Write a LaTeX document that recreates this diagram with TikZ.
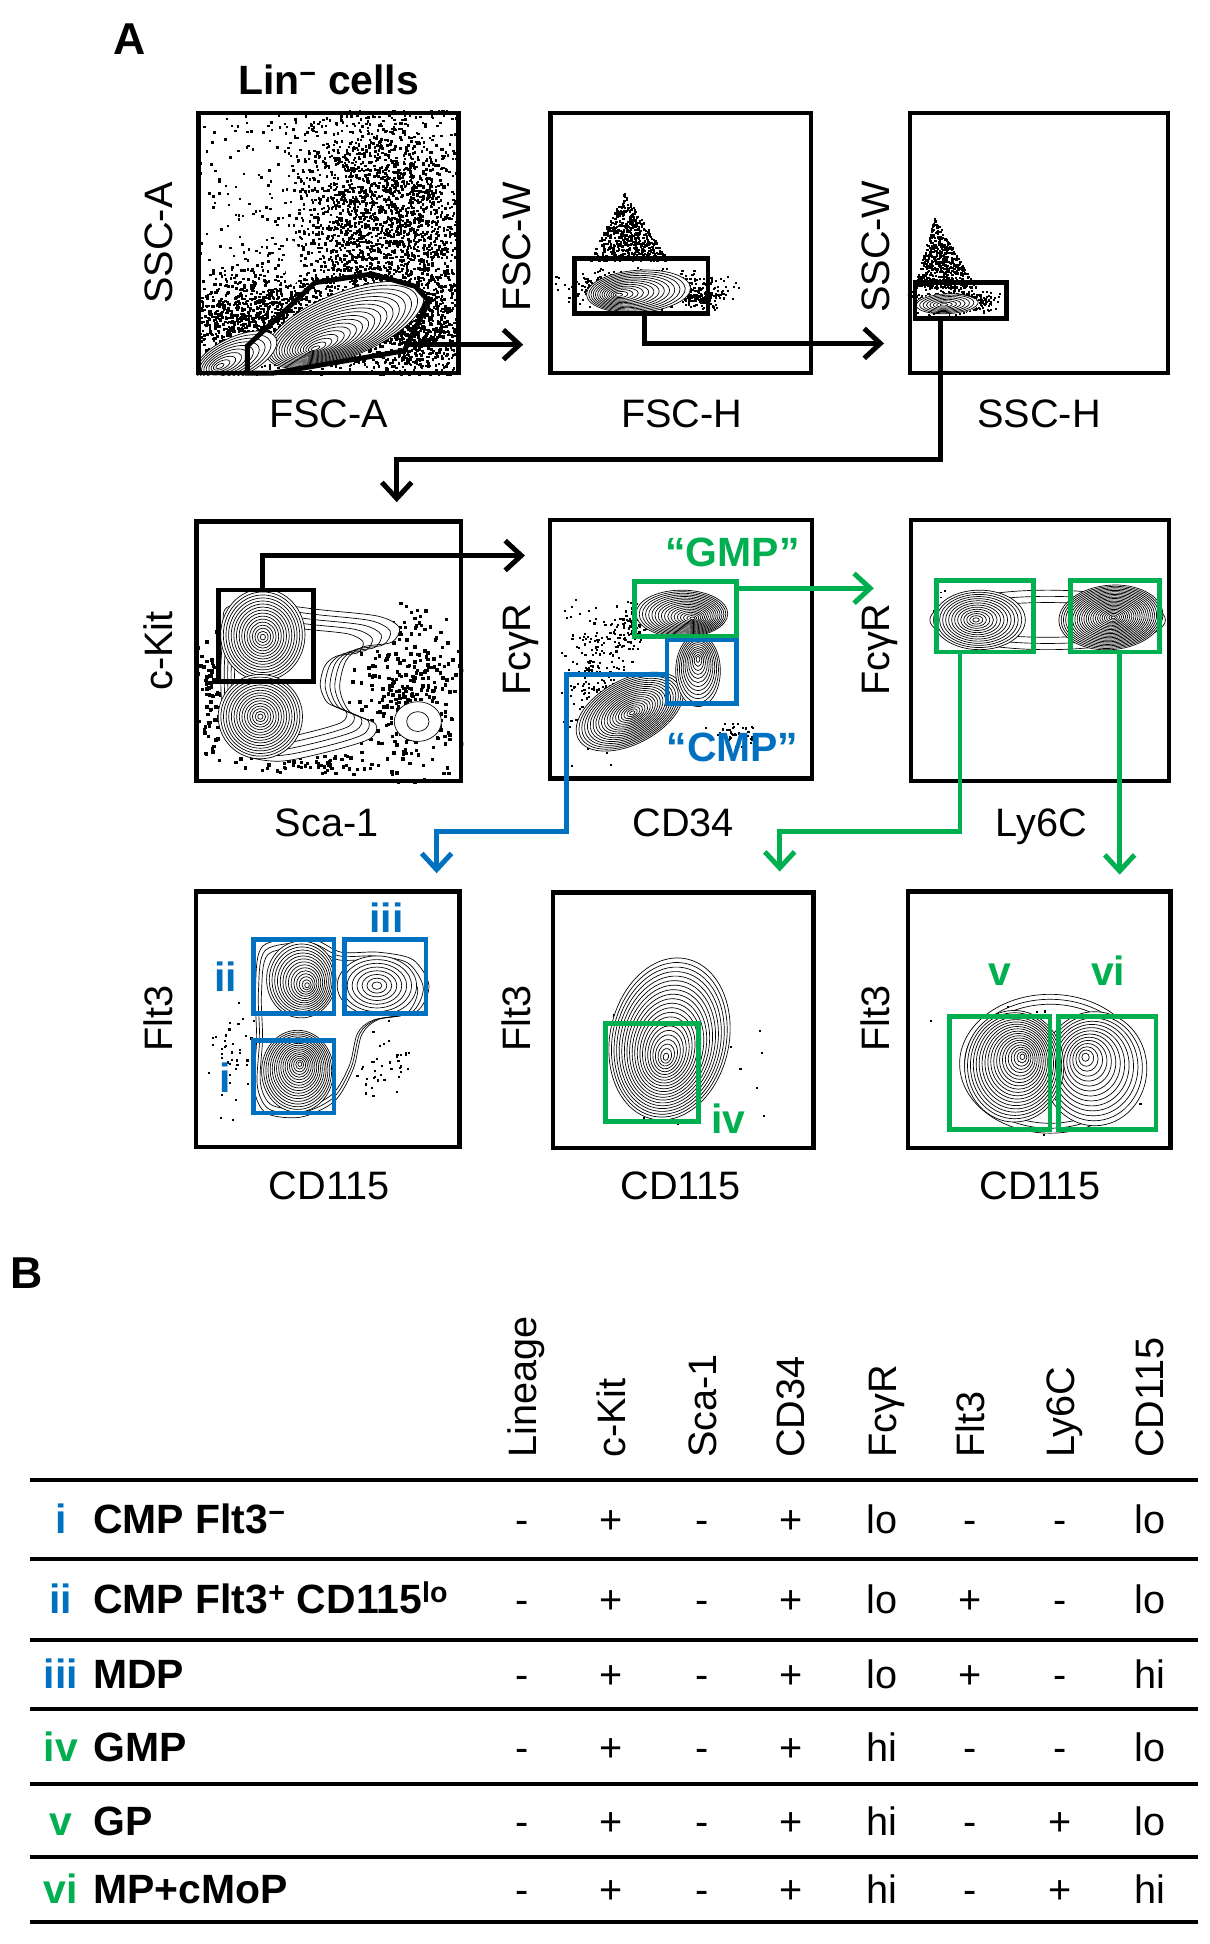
\documentclass[tikz,border=0pt]{standalone}
\usepackage{fontspec}
\setmainfont{Liberation Sans}
\usetikzlibrary{arrows.meta,fit}
\definecolor{gblue}{RGB}{0,112,192}
\definecolor{ggreen}{RGB}{0,176,80}
\pgfdeclarelayer{back}\pgfdeclarelayer{bg}
\pgfsetlayers{back,bg,main}
% contour family: cx cy rx ry angle n dx dy
\newcommand\cfam[8]{%
  \foreach \k in {1,...,#6}{%
    \pgfmathsetmacro\myF{\k/#6}%
    \pgfmathsetmacro\myCx{#1+(#7)*(1-\myF)}%
    \pgfmathsetmacro\myCy{#2+(#8)*(1-\myF)}%
    \draw[cline, rotate around={#5:(\myCx,\myCy)}] (\myCx,\myCy) ellipse [x radius=\myF*#3, y radius=\myF*#4];
  }}
% gaussian-like dots: n cx cy sx sy size
\newcommand\gdots[6]{%
  \foreach \i in {1,...,#1}{%
    \pgfmathsetmacro\myPx{#2+#4*(rnd+rnd+rnd-1.5)}%
    \pgfmathsetmacro\myPy{#3+#5*(rnd+rnd+rnd-1.5)}%
    \fill (\myPx,\myPy) rectangle ++(#6,#6);}}
% uniform dots: n x0 y0 w h size
\newcommand\udots[6]{%
  \foreach \i in {1,...,#1}{%
    \pgfmathsetmacro\myPx{#2+#4*rnd}%
    \pgfmathsetmacro\myPy{#3+#5*rnd}%
    \fill (\myPx,\myPy) rectangle ++(#6,#6);}}
% triangle dots: n ax ay by wl wr size
\newcommand\tdots[7]{%
  \foreach \i in {1,...,#1}{%
    \pgfmathsetmacro\myT{sqrt(rnd)}%
    \pgfmathsetmacro\myPx{#2+(rnd*(#5+#6)-#5)*\myT}%
    \pgfmathsetmacro\myPy{#3+(#4-#3)*\myT}%
    \fill (\myPx,\myPy) rectangle ++(#7,#7);}}
\newcommand\pclip[1]{\clip (#1.south west) rectangle (#1.north east);}
\begin{document}
\begin{tikzpicture}[x=1pt,y=-1pt,
  panel/.style={draw=black, line width=3.6pt, inner sep=0pt},
  gate/.style={line width=3.8pt, inner sep=0pt},
  kgate/.style={gate, draw=black},
  bgate/.style={gate, draw=gblue},
  ggate/.style={gate, draw=ggreen},
  cline/.style={line width=0.55pt, black},
  conn/.style={line width=4pt, -{Straight Barb[length=13pt,width=24pt]}},
  karr/.style={conn, draw=black},
  barr/.style={conn, draw=gblue},
  garr/.style={conn, draw=ggreen},
  axl/.style={font={\fontsize{32}{38}\selectfont}, inner sep=0pt},
  blbl/.style={font={\fontsize{33}{40}\selectfont\bfseries}, inner sep=0pt},
  big/.style={font={\fontsize{36}{42}\selectfont\bfseries}, inner sep=0pt},
  val/.style={font={\fontsize{32}{38}\selectfont}, inner sep=0pt},
  tline/.style={line width=3pt, black}]
\pgfmathsetseed{7}
\useasboundingbox (0,0) rectangle (975.2,1568);
\begin{pgfonlayer}{back}
\fill[white] (0,0) rectangle (975.2,1568);
\end{pgfonlayer}

% ---------- panels ----------
\node[panel, fit={(160,91)(370,301)}] (p1) {};
\node[panel, fit={(444,91)(654,301)}] (p2) {};
\node[panel, fit={(734,91)(942,301)}] (p3) {};
\node[panel, fit={(158.6,420.5)(372,630)}] (p4) {};
\node[panel, fit={(443.7,419.5)(655,628)}] (p5) {};
\node[panel, fit={(734.6,419.5)(943,630)}] (p6) {};
\node[panel, fit={(158,719)(370.6,925)}] (p7) {};
\node[panel, fit={(446,720)(656,926)}] (p8) {};
\node[panel, fit={(732.5,719)(944,926)}] (p9) {};

% ---------- plot contents ----------
\begin{pgfonlayer}{bg}
\begin{scope}\pclip{p1}
  \udots{500}{160}{91}{210}{210}{2}
  \gdots{2400}{308}{185}{72}{100}{2}
  \gdots{1100}{203}{262}{52}{42}{2}
  \gdots{700}{338}{262}{40}{42}{2}
  \fill[white] (236,212) ellipse [x radius=6, y radius=18];
  \fill[white, rotate around={22:(278,262)}] (278,262) ellipse [x radius=68, y radius=26];
  \cfam{278}{262}{68}{26}{22}{18}{-25}{20}
  \fill[white, rotate around={25:(190,288)}] (190,288) ellipse [x radius=36, y radius=16];
  \cfam{190}{288}{36}{16}{25}{10}{-14}{8}
\end{scope}
\begin{scope}\pclip{p2}
  \tdots{550}{503}{155}{210}{28}{36}{1.8}
  \gdots{800}{518}{232}{55}{14}{1.7}
  \gdots{120}{568}{240}{14}{8}{1.7}
  \fill[white, rotate around={4:(515,235)}] (515,235) ellipse [x radius=42, y radius=17];
  \cfam{515}{235}{42}{17}{4}{14}{-17}{3}
\end{scope}
\begin{scope}\pclip{p3}
  \tdots{550}{753}{175}{232}{16}{34}{1.7}
  \gdots{600}{768}{243}{30}{9}{1.6}
  \fill[white] (764,245) ellipse [x radius=25, y radius=8];
  \cfam{764}{245}{25}{8}{3}{8}{-3}{1}
\end{scope}
\begin{scope}\pclip{p4}
  \gdots{300}{330}{560}{40}{65}{2.8}
  \gdots{80}{170}{560}{10}{45}{2.8}
  \gdots{60}{250}{615}{55}{8}{2.6}
  \gdots{30}{300}{510}{25}{15}{2.6}
  \fill[white] plot[smooth cycle] coordinates {(183,490) (215,487) (260,492) (305,497) (322,506) (316,518) (292,522) (279,533) (274,555) (282,574) (303,584) (298,596) (262,607) (225,614) (195,608) (181,585) (178,545) (180,510)};
  \foreach \s in {1,0.93,0.86,0.79,0.72}{
    \draw[cline, scale around={\s:(218,548)}] plot[smooth cycle] coordinates {(183,490) (215,487) (260,492) (305,497) (322,506) (316,518) (292,522) (279,533) (274,555) (282,574) (303,584) (298,596) (262,607) (225,614) (195,608) (181,585) (178,545) (180,510)};
  }
  \fill[white] (212,512) ellipse [x radius=34, y radius=37];
  \cfam{212}{512}{34}{37}{0}{16}{0}{2}
  \fill[white] (210,578) ellipse [x radius=34, y radius=34];
  \cfam{210}{578}{34}{34}{0}{16}{0}{0}
  \fill[white] (337,582) ellipse [x radius=19, y radius=16];
  \draw[cline] (337,582) ellipse [x radius=19, y radius=16];
  \draw[cline] (337,582) ellipse [x radius=9, y radius=8];
\end{scope}
\begin{scope}\pclip{p5}
  \gdots{260}{482}{550}{25}{55}{1.7}
  \gdots{100}{508}{505}{18}{18}{1.7}
  \gdots{40}{590}{590}{25}{10}{1.7}
  \fill[white, rotate around={28:(508,574)}] (508,574) ellipse [x radius=47, y radius=26];
  \cfam{508}{574}{47}{26}{28}{20}{2}{1}
  \fill[white] (550,495) ellipse [x radius=37, y radius=19];
  \cfam{550}{495}{37}{19}{0}{18}{9}{4}
  \fill[white] (563,541) ellipse [x radius=18, y radius=29];
  \cfam{563}{541}{18}{29}{0}{12}{0}{-10}
\end{scope}
\begin{scope}\pclip{p6}
  \gdots{20}{760}{495}{8}{20}{1.5}
  \foreach \a/\b in {95/24, 89/19, 83/14} \draw[cline] (845,500) ellipse [x radius=\a, y radius=\b];
  \fill[white] (790,500) ellipse [x radius=37, y radius=24];
  \cfam{790}{500}{37}{24}{0}{14}{-3}{0}
  \fill[white, rotate around={5:(896,498)}] (896,498) ellipse [x radius=42, y radius=26];
  \cfam{896}{498}{42}{26}{5}{24}{2}{0}
\end{scope}
\begin{scope}\pclip{p7}
  \gdots{40}{188}{850}{18}{45}{1.7}
  \gdots{40}{308}{858}{28}{28}{1.7}
  \fill[white] plot[smooth cycle] coordinates {(212,763) (250,757) (275,768) (305,768) (333,774) (346,795) (336,816) (306,822) (292,834) (285,862) (270,888) (243,901) (215,898) (205,878) (207,838) (206,798)};
  \foreach \s in {1,0.95,0.9}{
    \draw[cline, scale around={\s:(255,830)}] plot[smooth cycle] coordinates {(212,763) (250,757) (275,768) (305,768) (333,774) (346,795) (336,816) (306,822) (292,834) (285,862) (270,888) (243,901) (215,898) (205,878) (207,838) (206,798)};
  }
  \fill[white] (243,790) ellipse [x radius=28, y radius=31];
  \cfam{243}{790}{28}{31}{0}{15}{5}{5}
  \fill[white] (240,864) ellipse [x radius=29, y radius=33];
  \cfam{240}{864}{29}{33}{0}{18}{2}{-6}
  \fill[white] (304,795) ellipse [x radius=32, y radius=24];
  \cfam{304}{795}{32}{24}{0}{8}{0}{0}
\end{scope}
\begin{scope}\pclip{p8}
  \gdots{45}{548}{850}{60}{60}{1.7}
  \fill[white, rotate around={-12:(540,838)}] (540,838) ellipse [x radius=48, y radius=66];
  \cfam{540}{838}{48}{66}{-12}{22}{-3}{15}
\end{scope}
\begin{scope}\pclip{p9}
  \gdots{45}{840}{845}{70}{55}{1.7}
  \foreach \a/\b in {73/56, 69/52, 65/48} \draw[cline] (847,858) ellipse [x radius=\a, y radius=\b];
  \fill[white] (883,862) ellipse [x radius=42, y radius=46];
  \cfam{883}{862}{42}{46}{0}{14}{-8}{-10}
  \fill[white] (818,860) ellipse [x radius=40, y radius=45];
  \cfam{818}{860}{40}{45}{0}{20}{7}{-8}
\end{scope}
\end{pgfonlayer}

% ---------- gates ----------
\draw[line width=4pt, line join=miter] (199.5,301) -- (199.5,279) -- (254,228) -- (300,221) -- (335,231) -- (346,243) -- (326,283) -- (220,301) -- cycle;
\coordinate (g1out) at (327,278);
\node[kgate, fit={(463.5,208.3)(571,252.7)}] (g2) {};
\node[kgate, fit={(738,228)(811.6,256.7)}] (g3) {};
\node[kgate, fit={(176,475.8)(252.7,549.7)}] (g4) {};
\node[ggate, fit={(511.5,469.1)(594.1,513.4)}] (gmp) {};
\node[bgate, fit={(537.9,516.1)(594.1,567.2)}] (gcmp) {};
\node[ggate, fit={(755.4,468.5)(833.8,526)}] (g6a) {};
\node[ggate, fit={(863.5,468.5)(935.2,526)}] (g6b) {};
\node[bgate, fit={(204.3,839.3)(269.4,897.8)}] (gi) {};
\node[bgate, fit={(204.3,758)(269.4,817.2)}] (gii) {};
\node[bgate, fit={(277.7,758)(343.5,817.2)}] (giii) {};
\node[ggate, fit={(488.2,825.3)(563.4,904.6)}] (giv) {};
\node[ggate, fit={(766.1,819.9)(846.8,911.3)}] (gv) {};
\node[ggate, fit={(853.5,819.9)(932.3,911.3)}] (gvi) {};

% ---------- connectors ----------
\coordinate (t1) at (422,278);
\draw[karr] (g1out) -- (t1);
\coordinate (t2) at (713,277);
\draw[karr] ([xshift=2.5pt]g2.south) |- (t2);
\coordinate (t3) at (320,405);
\draw[karr] ([xshift=-16pt]g3.south) |- ([yshift=34pt]t3) -- (t3);
\coordinate (t4) at (423.4,448.1);
\draw[karr] ([xshift=-2.5pt]g4.north) |- (t4);
\coordinate (t5) at (704.8,474.5);
\draw[garr] (gmp.east |- t5) -- (t5);
\coordinate (t6) at (352.2,704.3);
\coordinate (j6) at (457,544.4);
\draw[barr] (gcmp.west |- j6) -- (j6) |- ([yshift=33.6pt]t6) -- (t6);
\coordinate (t7) at (628.9,703);
\draw[garr] ([xshift=-20.3pt]g6a.south) |- ([yshift=32.3pt]t7) -- (t7);
\coordinate (t8) at (903.1,705.5);
\draw[garr] (g6b.south -| t8) -- (t8);

% ---------- labels ----------
\node[big, anchor=base] (la) at (104.8,44) {A};
\node[big, anchor=base] (lb) at (21.6,1039) {B};
\node[blbl, anchor=base] (lin) at (265,76) {Lin\textsuperscript{−} cells};

\node[axl, rotate=90, anchor=base] (y1) at (139,196) {SSC-A};
\node[axl, rotate=90, anchor=base] (y2) at (428,199) {FSC-W};
\node[axl, rotate=90, anchor=base] (y3) at (717.5,199) {SSC-W};
\node[axl, rotate=90, anchor=base] (y4) at (139,525) {c-Kit};
\node[axl, rotate=90, anchor=base] (y5) at (428,524) {FcγR};
\node[axl, rotate=90, anchor=base] (y6) at (717.5,524) {FcγR};
\node[axl, rotate=90, anchor=base] (y7) at (139,821.5) {Flt3};
\node[axl, rotate=90, anchor=base] (y8) at (428,821.5) {Flt3};
\node[axl, rotate=90, anchor=base] (y9) at (717.5,821.5) {Flt3};

\node[axl, anchor=base] (x1) at (265,344.5) {FSC-A};
\node[axl, anchor=base] (x2) at (550,344.5) {FSC-H};
\node[axl, anchor=base] (x3) at (838,344.5) {SSC-H};
\node[axl, anchor=base] (x4) at (263.4,674.3) {Sca-1};
\node[axl, anchor=base] (x5) at (551,674.3) {CD34};
\node[axl, anchor=base] (x6) at (840,674.3) {Ly6C};
\node[axl, anchor=base] (x7) at (265.5,967.3) {CD115};
\node[axl, anchor=base] (x8) at (549,967.3) {CD115};
\node[axl, anchor=base] (x9) at (838.7,967.3) {CD115};

\node[blbl, text=ggreen, anchor=base] (lgmp) at (590.8,457) {“GMP”};
\node[blbl, text=gblue, anchor=base] (lcmp) at (590.8,614) {“CMP”};
\node[blbl, text=gblue, anchor=base] (liii) at (311.7,752) {iii};
\node[blbl, text=gblue, anchor=base] (lii) at (181.9,800) {ii};
\node[blbl, text=gblue, anchor=base] (li) at (181.5,881) {i};
\node[blbl, text=ggreen, anchor=base] (liv) at (587.7,914.5) {iv};
\node[blbl, text=ggreen, anchor=base] (lv) at (806.5,794.5) {v};
\node[blbl, text=ggreen, anchor=base] (lvi) at (893.8,795) {vi};

% ---------- table ----------
\foreach \c/\h [count=\j] in {421/Lineage, 493.2/c-Kit, 566.4/Sca-1, 637.7/CD34, 711.5/FcγR, 782.8/Flt3, 855.3/Ly6C, 927.3/CD115}
  \node[val, rotate=90, anchor=base west] (h\j) at (\c+11.5,1176) {\h};

\foreach \yy in {1193.5,1257.3,1322.6,1378.5,1439,1497.8,1550.2}
  \draw[tline] (24,\yy) -- (966.6,\yy);

\foreach \yb/\vals [count=\r] in {1237.1/{-,+,-,+,lo,-,-,lo}, 1301.7/{-,+,-,+,lo,+,-,lo}, 1362.3/{-,+,-,+,lo,+,-,hi}, 1420.5/{-,+,-,+,hi,-,-,lo}, 1480.1/{-,+,-,+,hi,-,+,lo}, 1535.7/{-,+,-,+,hi,-,+,hi}}{
  \foreach \v [count=\j] in \vals {
    \pgfmathsetmacro\myCol{{421,493.2,566.4,637.7,711.5,782.8,855.3,927.3}[\j-1]}
    \node[val, anchor=base] (v\r-\j) at (\myCol,\yb) {\v};
  }
}

\node[blbl, text=gblue, anchor=base] (n1) at (49,1237.1) {i};
\node[blbl, anchor=base west] (r1) at (75,1237.1) {CMP Flt3\textsuperscript{−}};
\node[blbl, text=gblue, anchor=base] (n2) at (49,1301.7) {ii};
\node[blbl, anchor=base west] (r2) at (75,1301.7) {CMP Flt3\textsuperscript{+} CD115\textsuperscript{lo}};
\node[blbl, text=gblue, anchor=base] (n3) at (49,1362.3) {iii};
\node[blbl, anchor=base west] (r3) at (75,1362.3) {MDP};
\node[blbl, text=ggreen, anchor=base] (n4) at (49,1420.5) {iv};
\node[blbl, anchor=base west] (r4) at (75,1420.5) {GMP};
\node[blbl, text=ggreen, anchor=base] (n5) at (49,1480.1) {v};
\node[blbl, anchor=base west] (r5) at (75,1480.1) {GP};
\node[blbl, text=ggreen, anchor=base] (n6) at (49,1535.7) {vi};
\node[blbl, anchor=base west] (r6) at (75,1535.7) {MP+cMoP};
\end{tikzpicture}
\end{document}
